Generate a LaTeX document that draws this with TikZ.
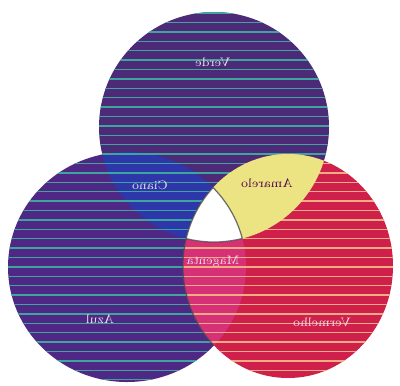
\documentclass[tikz,border=0pt]{standalone}

\definecolor{corVerde}{RGB}{76,42,120}
\definecolor{corAzul}{RGB}{78,40,132}
\definecolor{corVermelho}{RGB}{206,32,74}
\definecolor{corCiano}{RGB}{45,55,170}
\definecolor{corAmarelo}{RGB}{236,228,130}
\definecolor{corMagenta}{RGB}{214,48,118}
\definecolor{riscaFria}{RGB}{62,165,158}
\definecolor{riscaQuente}{RGB}{242,172,132}

\tikzset{
  every node/.style={font=\scriptsize},
  rotulo/.style={text=violet!12, xscale=-1},
  risca/.style={line width=0.8pt},
  aresta/.style={line width=0.7pt, black!70, opacity=0.8},
}

% the three disks
\def\discoTopo{(4.28,-2.54) circle (2.3)}
\def\discoEsq{(2.54,-5.34) ellipse (2.38 and 2.3)}
\def\discoDir{(5.76,-5.32) ellipse (2.1 and 2.24)}

\begin{document}
\begin{tikzpicture}
  \fill[white] (0,0) rectangle (8,-7.7);
  \useasboundingbox (0,0) rectangle (8,-7.7);

  % base colours
  \fill[corVerde] \discoTopo;
  \fill[corAzul] \discoEsq;
  \fill[corVermelho] \discoDir;

  % overlaps
  \begin{scope}
    \clip \discoTopo;
    \fill[corCiano] \discoEsq;
  \end{scope}
  \begin{scope}
    \clip \discoEsq;
    \fill[corMagenta] \discoDir;
  \end{scope}

  % scan lines
  \begin{scope}
    \clip \discoTopo;
    \foreach \k in {0,...,40}
      \draw[risca, riscaFria] (0,-0.26-0.188*\k) -- (8,-0.26-0.188*\k);
  \end{scope}
  \begin{scope}
    \clip \discoEsq;
    \foreach \k in {0,...,40}
      \draw[risca, riscaFria] (0,-0.26-0.188*\k) -- (8,-0.26-0.188*\k);
  \end{scope}
  \begin{scope}
    \clip \discoDir;
    \foreach \k in {0,...,40}
      \draw[risca, riscaQuente] (0,-0.26-0.188*\k) -- (8,-0.26-0.188*\k);
  \end{scope}

  \begin{scope}
    \clip \discoTopo;
    \fill[corAmarelo] \discoDir;
  \end{scope}
  \begin{scope}
    \clip \discoTopo;
    \clip \discoEsq;
    \fill[white] \discoDir;
  \end{scope}

  % inner edges
  \begin{scope}
    \clip \discoTopo;
    \clip \discoDir;
    \draw[aresta] \discoEsq;
  \end{scope}
  \begin{scope}
    \clip \discoEsq;
    \clip \discoDir;
    \draw[aresta] \discoTopo;
  \end{scope}
  \begin{scope}
    \clip \discoEsq;
    \draw[aresta] \discoDir;
  \end{scope}

  % labels
  \node[rotulo] (verde) at (4.26,-1.24) {Verde};
  \node[rotulo] (ciano) at (3.0,-3.7) {Ciano};
  \node[rotulo, text=violet!60!black] (amarelo) at (5.34,-3.66) {Amarelo};
  \node[rotulo] (magenta) at (4.26,-5.24) {Magenta};
  \node[rotulo] (azul) at (2.0,-6.38) {Azul};
  \node[rotulo] (vermelho) at (6.44,-6.44) {Vermelho};
\end{tikzpicture}
\end{document}
